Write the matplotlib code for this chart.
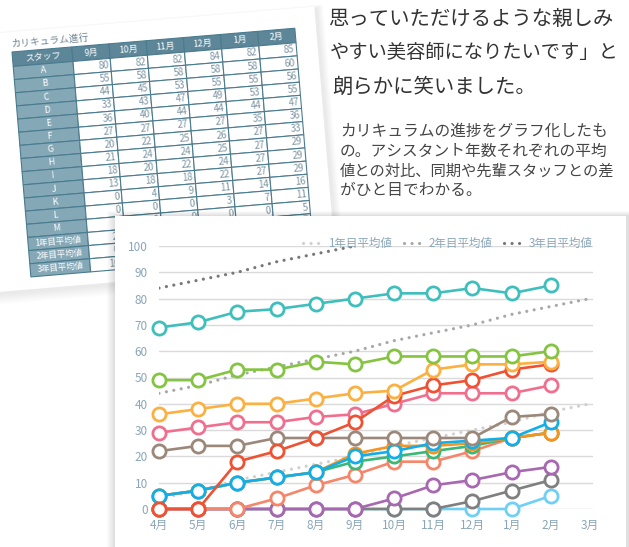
import numpy as np
import matplotlib
matplotlib.use('Agg')
import matplotlib.pyplot as plt
from matplotlib.patches import Rectangle
from matplotlib.transforms import Affine2D

plt.rcParams['font.family'] = ['Noto Sans CJK JP', 'DejaVu Sans']

# --- data ---
months = ['4月', '5月', '6月', '7月', '8月', '9月', '10月', '11月', '12月', '1月', '2月', '3月']
staff = ['A', 'B', 'C', 'D', 'E', 'F', 'G', 'H', 'I', 'J', 'K', 'L', 'M']

A = [69, 71, 75, 76, 78, 80, 82, 82, 84, 82, 85]
B = [49, 49, 53, 53, 56, 55, 58, 58, 58, 58, 60]
C = [36, 38, 40, 40, 42, 44, 45, 53, 55, 55, 56]
D = [0, 0, 18, 22, 27, 33, 43, 47, 49, 53, 55]
E = [29, 31, 33, 33, 35, 36, 40, 44, 44, 44, 47]
F = [22, 24, 24, 27, 27, 27, 27, 27, 27, 35, 36]
G = [5, 7, 10, 12, 14, 20, 22, 25, 26, 27, 33]
H = [5, 7, 10, 12, 14, 21, 24, 24, 25, 27, 29]
I = [5, 7, 10, 12, 14, 18, 20, 22, 24, 27, 29]
J = [0, 0, 0, 4, 9, 13, 18, 18, 22, 27, 29]
K = [0, 0, 0, 0, 0, 0, 4, 9, 11, 14, 16]
L = [0, 0, 0, 0, 0, 0, 0, 0, 3, 7, 11]
M = [0, 0, 0, 0, 0, 0, 0, 0, 0, 0, 5]

avg1 = [4, 7, 11, 14, 17, 20, 24, 27, 30, 33, 37, 40]
avg2 = [44, 47, 51, 54, 57, 60, 64, 67, 70, 74, 77, 80]
avg3 = [84, 87, 90, 94, 97, 100]
avg_labels = ['1年目平均値', '2年目平均値', '3年目平均値']

table_title = 'カリキュラム進行'
table_head = 'スタッフ'
quote = ['思っていただけるような親しみ', 'やすい美容師になりたいです」と', '朗らかに笑いました。']
caption = ['カリキュラムの進捗をグラフ化したも',
           'の。アシスタント年数それぞれの平均',
           '値との対比、同期や先輩スタッフとの差',
           'がひと目でわかる。']

series = [A, B, C, D, E, F, G, H, I, J, K, L, M]
colors = ['#3fbfbc', '#84c441', '#fbb040', '#ef5133', '#f06f8e', '#9c887a', '#11aee9',
          '#f7941d', '#3ab877', '#f6866a', '#a767b1', '#7f7f80', '#6fcff5']
avg_colors = ['#d0d0d0', '#a8a8a8', '#787878']
tick_col = '#8aa6b8'

fig = plt.figure(figsize=(6.29, 5.47), dpi=100)
fig.patch.set_facecolor('white')

# background axes in pixel units (y down)
bg = fig.add_axes([0, 0, 1, 1])
bg.set_xlim(0, 629)
bg.set_ylim(547, 0)
bg.axis('off')

# --- tilted sheet with the table ---
th = np.deg2rad(4.8)
c, s = np.cos(th), np.sin(th)
tab = Affine2D(np.array([[c, s, 12], [-s, c, 52], [0, 0, 1]])) + bg.transData

for k in range(1, 8):
    bg.add_patch(Rectangle((-40 + 2 - k, -20 + 2 - k * 0.5), 345 + 2 * k, 258 + 2 * k,
                           transform=tab, fc='black', ec='none', alpha=0.012, zorder=1))
bg.add_patch(Rectangle((-40, -20), 345, 258, transform=tab, fc='white', ec='none', zorder=1.5))

w0, w, hh, rh = 60, 37.3, 14.5, 13.2
hdr, lab, edge = '#5d8798', '#85a8b7', '#4a7b8e'
num_col = '#7e95a3'

bg.text(0, -3, table_title, transform=tab, rotation=4.8, rotation_mode='anchor',
        ha='left', va='bottom', fontsize=7, color='#6f8592', zorder=3)

bg.add_patch(Rectangle((0, 0), w0, hh, transform=tab, fc=hdr, ec=edge, lw=0.8, zorder=2))
bg.text(w0 / 2, hh / 2, table_head, transform=tab, rotation=4.8, rotation_mode='anchor',
        ha='center', va='center', fontsize=6.5, color='white', zorder=3)
for j, m in enumerate(months[5:11]):
    bg.add_patch(Rectangle((w0 + j * w, 0), w, hh, transform=tab, fc=hdr, ec=edge, lw=0.8, zorder=2))
    bg.text(w0 + j * w + w / 2, hh / 2, m, transform=tab, rotation=4.8, rotation_mode='anchor',
            ha='center', va='center', fontsize=6.5, color='white', zorder=3)

rows = staff + avg_labels
row_vals = [sr[5:11] for sr in series] + [avg1[5:11], avg2[5:11], avg3[5:11]]
for i, name in enumerate(rows):
    v = hh + i * rh
    bg.add_patch(Rectangle((0, v), w0, rh, transform=tab, fc=lab, ec=edge, lw=0.8, zorder=2))
    bg.text(w0 / 2, v + rh / 2, name, transform=tab, rotation=4.8, rotation_mode='anchor',
            ha='center', va='center', fontsize=6 if len(name) > 1 else 6.5, color='white', zorder=3)
    for j in range(6):
        bg.add_patch(Rectangle((w0 + j * w, v), w, rh, transform=tab, fc='white', ec=edge, lw=0.8, zorder=2))
        if j < len(row_vals[i]):
            bg.text(w0 + (j + 1) * w - 2, v + rh / 2, str(row_vals[i][j]), transform=tab,
                    rotation=4.8, rotation_mode='anchor', ha='right', va='center',
                    fontsize=7, color=num_col, zorder=3)

# --- text on the right ---
quote_pos = [(328, 19, 14.7), (330, 52, 13.9), (332, 87, 14.7)]
for line, (tx, ty, fs) in zip(quote, quote_pos):
    bg.text(tx, ty, line, fontsize=fs, color='#333333', ha='left', va='center', zorder=6)
cap_pos = [(131, 11.3), (151, 11.3), (171, 11.0), (191, 11.3)]
for line, (ty, fs) in zip(caption, cap_pos):
    bg.text(340, ty, line, fontsize=fs, color='#454545', ha='left', va='center', zorder=6)

# --- chart card ---
for k in range(1, 9):
    bg.add_patch(Rectangle((115 - k, 216 - k * 0.6), 515 + 2 * k, 340, fc='black', ec='none',
                           alpha=0.015, zorder=9))
bg.add_patch(Rectangle((115, 216), 511, 340, fc='white', ec='none', zorder=10))

# --- chart ---
ax = fig.add_axes([159 / 629, 38 / 547, 434 / 629, 263 / 547])
ax.patch.set_alpha(0)
x = np.arange(len(months))

for vals, col, name in zip([avg1, avg2, avg3], avg_colors, avg_labels):
    ax.plot(x[:len(vals)], vals, color=col, lw=2.3, linestyle=(0, (0.01, 2.35)),
            dash_capstyle='round', label=name, zorder=2)

n = len(series)
for k, (vals, col) in enumerate(zip(series, colors)):
    ax.plot(x[:len(vals)], vals, color=col, lw=1.9, marker='o', ms=9.5, mew=2,
            mfc='white', mec=col, zorder=3 + (n - k) * 0.1, clip_on=False)

ax.set_xlim(0, 11 * 434 / 431)
ax.set_ylim(0, 100)
ax.set_yticks(range(0, 101, 10))
ax.set_xticks(x)
ax.set_xticklabels(months)
ax.grid(axis='y', color='#dadada', lw=1)
ax.set_axisbelow(True)
for sp in ax.spines.values():
    sp.set_visible(False)
ax.tick_params(axis='both', length=0, colors=tick_col, labelsize=8.5)
ax.tick_params(axis='y', pad=8)
ax.tick_params(axis='x', pad=7)

leg = ax.legend(loc='lower right', bbox_to_anchor=(1.0, 0.985), ncol=3, frameon=False,
                fontsize=8.3, handlelength=1.75, handletextpad=0.4, columnspacing=1.05,
                borderaxespad=0, borderpad=0)
for t in leg.get_texts():
    t.set_color(tick_col)

fig.savefig('out.png', dpi=100, facecolor='white')
